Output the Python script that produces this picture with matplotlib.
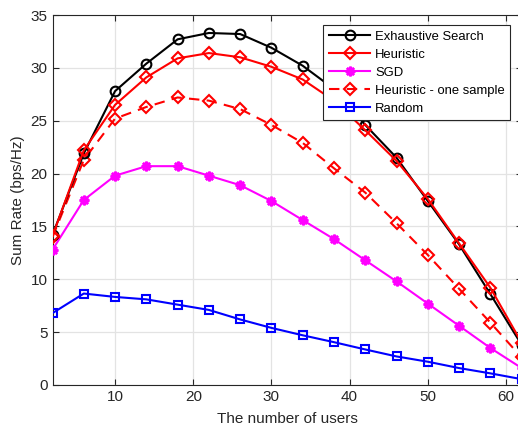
"""Sum rate versus number of users for the user-selection schemes."""
import matplotlib
matplotlib.use("Agg")
import matplotlib.pyplot as plt
import numpy as np

plt.rcParams["font.family"] = ["Liberation Sans", "DejaVu Sans"]

users = [2, 6, 10, 14, 18, 22, 26, 30, 34, 38, 42, 46, 50, 54, 58, 62]

exhaustive = [14.2, 21.9, 27.8, 30.4, 32.7, 33.3, 33.2, 31.9, 30.2, 28.0,
              24.6, 21.5, 17.4, 13.3, 8.6, 3.8]
heuristic = [14.1, 22.2, 26.5, 29.1, 30.9, 31.4, 31.0, 30.1, 28.9, 26.9,
             24.1, 21.2, 17.6, 13.4, 9.2, 4.0]
sgd = [12.8, 17.5, 19.8, 20.7, 20.7, 19.8, 18.9, 17.4, 15.6, 13.8,
       11.8, 9.8, 7.7, 5.6, 3.5, 1.6]
heuristic_one = [14.0, 21.3, 25.2, 26.3, 27.2, 26.9, 26.1, 24.6, 22.9, 20.5,
                 18.2, 15.3, 12.3, 9.1, 5.9, 2.6]
random_sel = [6.8, 8.65, 8.33, 8.1, 7.6, 7.1, 6.2, 5.4, 4.7, 4.05,
              3.36, 2.7, 2.2, 1.6, 1.1, 0.55]

xticks = [10, 20, 30, 40, 50, 60]
yticks = [0, 5, 10, 15, 20, 25, 30, 35]

fig = plt.figure(figsize=(5.18, 4.30), dpi=100)
ax = fig.add_axes([0.1014, 0.1047, 0.9056, 0.8604])

lw = 1.5
ax.plot(users, exhaustive, color="black", lw=lw, marker="o", ms=7,
        mfc="none", mew=1.5, label="Exhaustive Search", zorder=5)
ax.plot(users, heuristic, color="red", lw=lw, marker="D", ms=6,
        mfc="none", mew=1.5, label="Heuristic", zorder=6)
ax.plot(users, sgd, color="magenta", lw=lw, marker=(8, 2, 0), ms=7,
        mew=1.8, label="SGD", zorder=4)
ax.plot(users, heuristic_one, color="red", lw=lw, ls=(0, (5, 3.5)), marker="D",
        ms=6, mfc="none", mew=1.5, label="Heuristic - one sample", zorder=4)
ax.plot(users, random_sel, color="blue", lw=lw, marker="s", ms=5.5,
        mfc="none", mew=1.5, label="Random", zorder=4)

ax.set_xlim(2, 62)
ax.set_ylim(0, 35)
ax.set_xticks(xticks)
ax.set_yticks(yticks)
ax.grid(True, color="#e3e3e3", lw=0.9)
ax.set_axisbelow(True)
ax.tick_params(direction="in", top=True, right=True, length=4,
               labelsize=11, colors="#262626", width=0.8)
for s in ax.spines.values():
    s.set_color("#262626")
    s.set_linewidth(0.8)

ax.set_xlabel("The number of users", fontsize=11, color="#262626", labelpad=6)
ax.set_ylabel("Sum Rate (bps/Hz)", fontsize=11, color="#262626", labelpad=4)

leg = ax.legend(loc="upper right", bbox_to_anchor=(510 / 518, 1 - 25.3 / 430),
                bbox_transform=fig.transFigure, fontsize=9.4,
                frameon=True, fancybox=False, edgecolor="#262626",
                framealpha=1.0, handlelength=3.2, handletextpad=0.35,
                borderpad=0.4, labelspacing=0.45, borderaxespad=0)
leg.get_frame().set_linewidth(0.8)
leg.set_zorder(20)

fig.savefig("out.png", dpi=100)
